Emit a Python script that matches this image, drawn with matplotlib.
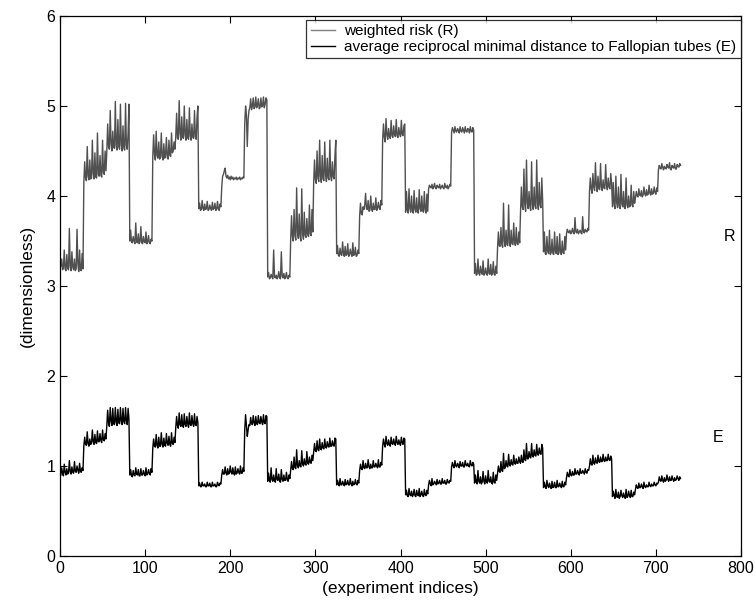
import matplotlib
matplotlib.use("Agg")
import matplotlib.pyplot as plt
import numpy as np

plt.rcParams['font.family'] = ['Liberation Sans', 'DejaVu Sans']

# weighted risk (R), one row per block of 27 experiments
R_values = [
    3.22,3.30,3.18, 3.20,3.40,3.19, 3.17,3.35,3.20, 3.18,3.64,3.22, 3.17,3.38,3.21, 3.18,3.30,3.17, 3.19,3.63,3.24, 3.16,3.40,3.18, 3.17,3.36,3.19,
    4.15,4.38,4.20, 4.17,4.55,4.22, 4.18,4.40,4.19, 4.20,4.62,4.25, 4.19,4.48,4.21, 4.20,4.70,4.24, 4.22,4.45,4.23, 4.21,4.62,4.26, 4.24,4.50,4.28,
    4.50,4.80,4.55, 4.52,4.95,4.58, 4.50,4.72,4.54, 4.53,5.05,4.56, 4.51,4.85,4.55, 4.52,5.02,4.57, 4.50,4.78,4.53, 4.51,5.03,4.56, 4.52,4.70,5.02,
    3.50,3.62,3.49, 3.48,3.55,3.50, 3.47,3.70,3.49, 3.48,3.58,3.47, 3.49,3.66,3.48, 3.47,3.55,3.49, 3.48,3.60,3.47, 3.49,3.56,3.48, 3.47,3.52,3.50,
    4.44,4.68,4.46, 4.40,4.72,4.45, 4.42,4.60,4.41, 4.43,4.70,4.44, 4.40,4.58,4.42, 4.45,4.65,4.43, 4.41,4.62,4.45, 4.44,4.70,4.48, 4.50,4.60,4.52,
    4.66,4.92,4.64, 4.63,5.06,4.70, 4.62,4.88,4.66, 4.64,5.00,4.68, 4.62,4.85,4.65, 4.63,4.98,4.67, 4.62,4.80,4.65, 4.64,4.95,4.66, 4.63,4.88,5.00,
    3.86,3.92,3.84, 3.85,3.95,3.86, 3.84,3.91,3.85, 3.86,3.94,3.84, 3.85,3.90,3.86, 3.84,3.93,3.85, 3.86,3.92,3.84, 3.85,3.94,3.86, 3.84,3.91,3.88,
    4.10,4.22,4.24, 4.28,4.31,4.22, 4.20,4.23,4.19, 4.21,4.18,4.22, 4.19,4.21,4.18, 4.20,4.19,4.21, 4.18,4.20,4.19, 4.21,4.18,4.20, 4.19,4.21,4.20,
    4.80,5.00,4.90, 4.55,4.85,4.95, 4.98,5.08,4.96, 5.00,5.09,4.97, 4.99,5.10,4.98, 5.01,5.08,4.97, 4.98,5.09,4.99, 5.00,5.10,4.98, 5.02,5.09,5.07,
    3.10,3.15,3.08, 3.09,3.13,3.10, 3.08,3.40,3.10, 3.09,3.12,3.08, 3.10,3.16,3.09, 3.08,3.38,3.11, 3.09,3.14,3.08, 3.10,3.15,3.09, 3.08,3.12,3.10,
    3.52,3.78,3.55, 3.50,3.85,3.56, 3.51,4.09,3.60, 3.53,3.80,3.55, 3.50,4.08,3.58, 3.52,3.82,3.56, 3.54,3.75,3.57, 3.55,3.90,3.58, 3.56,3.85,3.60,
    4.15,4.40,4.18, 4.14,4.50,4.20, 4.16,4.62,4.22, 4.15,4.45,4.19, 4.17,4.60,4.24, 4.16,4.42,4.20, 4.18,4.62,4.22, 4.17,4.38,4.21, 4.19,4.45,4.62,
    3.36,3.45,3.34, 3.33,3.42,3.35, 3.34,3.49,3.36, 3.33,3.44,3.34, 3.35,3.47,3.33, 3.34,3.41,3.36, 3.33,3.48,3.34, 3.35,3.43,3.33, 3.34,3.40,3.36,
    3.78,3.92,3.80, 3.79,3.88,3.85, 3.90,4.03,3.86, 3.85,3.95,3.83, 3.84,4.00,3.86, 3.83,3.92,3.85, 3.85,3.98,3.84, 3.86,3.93,3.87, 3.85,3.95,3.90,
    4.62,4.80,4.65, 4.60,4.86,4.68, 4.63,4.75,4.66, 4.64,4.84,4.67, 4.65,4.78,4.68, 4.66,4.85,4.67, 4.65,4.76,4.69, 4.66,4.84,4.68, 4.67,4.78,4.80,
    3.82,4.05,3.85, 3.81,4.08,3.86, 3.82,4.00,3.84, 3.81,4.06,3.85, 3.82,3.98,3.83, 3.81,4.07,3.86, 3.83,4.00,3.84, 3.82,4.05,3.85, 3.81,4.02,3.83,
    4.08,4.12,4.10, 4.09,4.13,4.08, 4.10,4.14,4.09, 4.08,4.12,4.10, 4.09,4.13,4.08, 4.10,4.12,4.09, 4.08,4.14,4.10, 4.09,4.12,4.08, 4.10,4.13,4.11,
    4.71,4.76,4.73, 4.70,4.77,4.72, 4.71,4.75,4.73, 4.70,4.77,4.72, 4.71,4.76,4.73, 4.70,4.77,4.72, 4.71,4.75,4.74, 4.70,4.77,4.72, 4.71,4.76,4.73,
    3.14,3.25,3.12, 3.13,3.30,3.14, 3.12,3.22,3.15, 3.13,3.28,3.12, 3.14,3.20,3.13, 3.12,3.30,3.14, 3.13,3.24,3.12, 3.14,3.27,3.13, 3.12,3.22,3.14,
    3.42,3.60,3.45, 3.44,3.65,3.46, 3.43,3.92,3.50, 3.44,3.62,3.46, 3.45,3.90,3.48, 3.44,3.62,3.47, 3.46,3.70,3.48, 3.45,3.65,3.47, 3.46,3.60,3.48,
    3.82,4.10,3.88, 3.85,4.30,3.90, 3.83,4.40,3.92, 3.86,4.05,3.88, 3.84,4.38,3.90, 3.85,4.10,3.89, 3.86,4.40,3.92, 3.85,4.15,3.90, 3.87,4.20,3.95,
    3.38,3.60,3.36, 3.35,3.55,3.38, 3.36,3.62,3.35, 3.37,3.52,3.36, 3.35,3.60,3.38, 3.36,3.55,3.35, 3.37,3.58,3.36, 3.35,3.50,3.37, 3.36,3.55,3.40,
    3.58,3.63,3.60, 3.59,3.62,3.58, 3.60,3.64,3.59, 3.58,3.76,3.60, 3.59,3.63,3.58, 3.60,3.62,3.59, 3.58,3.77,3.60, 3.59,3.63,3.61, 3.60,3.64,3.62,
    4.05,4.20,4.08, 4.03,4.25,4.10, 4.06,4.37,4.12, 4.05,4.22,4.08, 4.07,4.36,4.10, 4.06,4.18,4.09, 4.08,4.35,4.12, 4.07,4.20,4.10, 4.08,4.25,4.14,
    3.88,4.15,3.90, 3.86,4.22,3.92, 3.87,4.10,3.89, 3.86,4.24,3.91, 3.88,4.05,3.87, 3.86,4.20,3.90, 3.87,4.00,3.88, 3.89,4.12,3.90, 3.88,4.05,3.92,
    3.98,4.05,4.00, 3.99,4.08,4.01, 4.00,4.06,3.99, 4.01,4.10,4.02, 4.00,4.07,4.01, 4.02,4.12,4.03, 4.01,4.08,4.02, 4.03,4.10,4.04, 4.02,4.09,4.05,
    4.29,4.34,4.31, 4.30,4.36,4.32, 4.29,4.33,4.31, 4.30,4.35,4.32, 4.31,4.37,4.30, 4.29,4.34,4.32, 4.31,4.36,4.30, 4.30,4.35,4.33, 4.32,4.36,4.34,
]

# average reciprocal minimal distance to Fallopian tubes (E)
E_values = [
    0.90,0.98,0.92, 0.89,1.02,0.93, 0.90,0.97,0.91, 0.92,1.06,0.94, 0.91,0.99,0.93, 0.92,1.05,0.94, 0.93,1.00,0.95, 0.92,1.03,0.94, 0.93,0.98,0.95,
    1.22,1.32,1.24, 1.23,1.38,1.25, 1.22,1.30,1.24, 1.25,1.40,1.27, 1.24,1.35,1.26, 1.25,1.39,1.27, 1.27,1.36,1.28, 1.26,1.40,1.29, 1.28,1.36,1.30,
    1.45,1.62,1.48, 1.44,1.65,1.50, 1.45,1.64,1.47, 1.46,1.65,1.49, 1.45,1.63,1.48, 1.47,1.65,1.50, 1.46,1.64,1.49, 1.47,1.65,1.50, 1.46,1.64,1.52,
    0.90,0.96,0.89, 0.88,0.95,0.90, 0.89,0.98,0.91, 0.90,0.96,0.89, 0.89,0.97,0.90, 0.90,0.95,0.91, 0.89,0.98,0.90, 0.91,0.96,0.92, 0.90,0.97,0.93,
    1.20,1.30,1.22, 1.21,1.35,1.23, 1.20,1.32,1.22, 1.22,1.37,1.24, 1.21,1.31,1.23, 1.22,1.36,1.25, 1.23,1.33,1.24, 1.22,1.37,1.25, 1.24,1.32,1.26,
    1.43,1.55,1.45, 1.42,1.59,1.46, 1.44,1.57,1.45, 1.43,1.58,1.46, 1.44,1.55,1.47, 1.43,1.59,1.46, 1.45,1.56,1.47, 1.44,1.58,1.46, 1.45,1.55,1.48,
    0.78,0.81,0.77, 0.77,0.82,0.78, 0.78,0.80,0.77, 0.77,0.82,0.78, 0.78,0.81,0.77, 0.77,0.82,0.78, 0.78,0.80,0.77, 0.77,0.82,0.79, 0.78,0.81,0.80,
    0.90,0.96,0.91, 0.91,0.99,0.92, 0.90,0.97,0.91, 0.92,1.00,0.93, 0.91,0.98,0.92, 0.90,0.99,0.91, 0.92,0.97,0.93, 0.91,1.00,0.92, 0.92,0.98,0.94,
    1.40,1.57,1.45, 1.33,1.40,1.46, 1.45,1.54,1.47, 1.46,1.56,1.48, 1.45,1.55,1.47, 1.46,1.56,1.48, 1.47,1.55,1.49, 1.46,1.57,1.48, 1.47,1.56,1.55,
    0.83,0.92,0.84, 0.82,0.98,0.85, 0.83,0.90,0.84, 0.82,0.97,0.85, 0.84,0.91,0.83, 0.82,0.96,0.85, 0.83,0.90,0.84, 0.84,0.93,0.85, 0.83,0.90,0.86,
    0.95,1.05,0.97, 0.96,1.10,0.98, 0.97,1.18,1.00, 0.98,1.06,1.00, 0.99,1.17,1.02, 1.00,1.08,1.02, 1.01,1.16,1.03, 1.02,1.10,1.04, 1.03,1.12,1.06,
    1.15,1.25,1.17, 1.16,1.28,1.18, 1.17,1.30,1.19, 1.18,1.26,1.20, 1.19,1.30,1.21, 1.20,1.27,1.22, 1.21,1.31,1.22, 1.22,1.28,1.23, 1.22,1.31,1.30,
    0.79,0.84,0.80, 0.78,0.86,0.79, 0.79,0.83,0.80, 0.78,0.85,0.79, 0.80,0.84,0.79, 0.79,0.86,0.80, 0.78,0.83,0.79, 0.80,0.85,0.80, 0.79,0.84,0.81,
    0.95,1.02,0.97, 0.96,1.06,0.98, 0.97,1.03,0.98, 0.98,1.07,0.99, 0.97,1.02,0.98, 0.98,1.06,0.99, 0.99,1.03,1.00, 0.98,1.07,0.99, 0.99,1.04,1.01,
    1.22,1.30,1.24, 1.21,1.33,1.25, 1.23,1.29,1.24, 1.22,1.32,1.25, 1.24,1.30,1.25, 1.23,1.33,1.26, 1.24,1.29,1.25, 1.23,1.32,1.26, 1.24,1.31,1.30,
    0.68,0.73,0.67, 0.66,0.75,0.68, 0.67,0.72,0.66, 0.68,0.74,0.67, 0.66,0.73,0.68, 0.67,0.75,0.66, 0.68,0.72,0.67, 0.66,0.74,0.68, 0.67,0.73,0.69,
    0.79,0.84,0.80, 0.78,0.86,0.79, 0.80,0.83,0.81, 0.79,0.85,0.80, 0.81,0.84,0.80, 0.80,0.86,0.81, 0.81,0.84,0.80, 0.80,0.85,0.82, 0.81,0.84,0.83,
    0.99,1.04,1.00, 0.98,1.06,1.00, 0.99,1.03,1.01, 0.98,1.05,1.00, 1.00,1.04,0.99, 0.99,1.06,1.01, 1.00,1.03,1.00, 0.99,1.06,1.01, 1.00,1.04,1.02,
    0.81,0.90,0.82, 0.80,0.95,0.83, 0.81,0.88,0.80, 0.82,0.94,0.83, 0.80,0.89,0.82, 0.81,0.95,0.83, 0.82,0.88,0.81, 0.80,0.93,0.82, 0.81,0.90,0.84,
    0.92,1.00,0.94, 0.93,1.05,0.95, 0.94,1.14,0.97, 0.98,1.06,1.00, 0.99,1.13,1.01, 1.00,1.07,1.02, 1.01,1.12,1.03, 1.02,1.08,1.03, 1.03,1.10,1.05,
    1.03,1.12,1.05, 1.04,1.18,1.07, 1.06,1.25,1.08, 1.08,1.16,1.10, 1.09,1.25,1.11, 1.10,1.18,1.12, 1.11,1.24,1.13, 1.12,1.20,1.14, 1.13,1.24,1.20,
    0.76,0.82,0.77, 0.75,0.84,0.78, 0.76,0.81,0.77, 0.75,0.83,0.76, 0.77,0.82,0.76, 0.76,0.84,0.77, 0.77,0.81,0.78, 0.76,0.83,0.77, 0.77,0.82,0.79,
    0.87,0.93,0.89, 0.88,0.96,0.90, 0.89,0.94,0.90, 0.90,0.97,0.91, 0.91,0.95,0.92, 0.90,0.97,0.92, 0.92,0.95,0.93, 0.91,0.97,0.93, 0.92,0.96,0.95,
    1.00,1.08,1.02, 1.01,1.12,1.03, 1.02,1.09,1.04, 1.03,1.12,1.05, 1.04,1.10,1.05, 1.05,1.13,1.06, 1.05,1.10,1.06, 1.06,1.13,1.07, 1.06,1.11,1.08,
    0.66,0.72,0.67, 0.64,0.74,0.66, 0.65,0.71,0.64, 0.66,0.73,0.67, 0.65,0.70,0.66, 0.64,0.74,0.65, 0.66,0.72,0.67, 0.65,0.73,0.66, 0.66,0.71,0.68,
    0.74,0.79,0.76, 0.75,0.81,0.76, 0.76,0.80,0.77, 0.75,0.82,0.77, 0.76,0.79,0.77, 0.77,0.82,0.78, 0.77,0.80,0.78, 0.78,0.82,0.79, 0.78,0.81,0.80,
    0.82,0.88,0.84, 0.83,0.89,0.84, 0.82,0.87,0.83, 0.84,0.90,0.85, 0.83,0.88,0.84, 0.84,0.89,0.85, 0.83,0.87,0.84, 0.85,0.89,0.86, 0.84,0.88,0.86,
]

x_ticks = [0, 100, 200, 300, 400, 500, 600, 700, 800]
y_ticks = [0, 1, 2, 3, 4, 5, 6]

idx = np.arange(1, len(R_values) + 1)

fig = plt.figure(figsize=(7.56, 6.03), dpi=100)
ax = fig.add_axes([60/756, 47/603, 681/756, 540/603])

ax.plot(idx, R_values, color='#505050', lw=1.0, label='weighted risk (R)')
ax.plot(idx, E_values, color='black', lw=1.0, label='average reciprocal minimal distance to Fallopian tubes (E)')

ax.set_xlim(0, 800)
ax.set_ylim(0, 6)
ax.set_xticks(x_ticks)
ax.set_yticks(y_ticks)
ax.tick_params(direction='in', top=True, right=True, length=5, width=0.8, labelsize=11.5)
for s in ax.spines.values():
    s.set_linewidth(0.9)

ax.set_xlabel('(experiment indices)', fontsize=12.5, labelpad=4)
ax.set_ylabel('(dimensionless)', fontsize=12.5, labelpad=8)

ax.text(786, 3.55, 'R', fontsize=11.5, ha='center', va='center')
ax.text(773, 1.32, 'E', fontsize=11.5, ha='center', va='center')

leg = ax.legend(loc='upper right', bbox_to_anchor=(1.0, 0.993), fontsize=11,
                frameon=True, fancybox=False, edgecolor='black', borderpad=0.3,
                handlelength=1.6, handletextpad=0.6, labelspacing=0.1,
                borderaxespad=0.0)
leg.get_frame().set_linewidth(0.9)
leg.get_lines()[0].set_color('#808080')

fig.savefig('out.png', dpi=100)
